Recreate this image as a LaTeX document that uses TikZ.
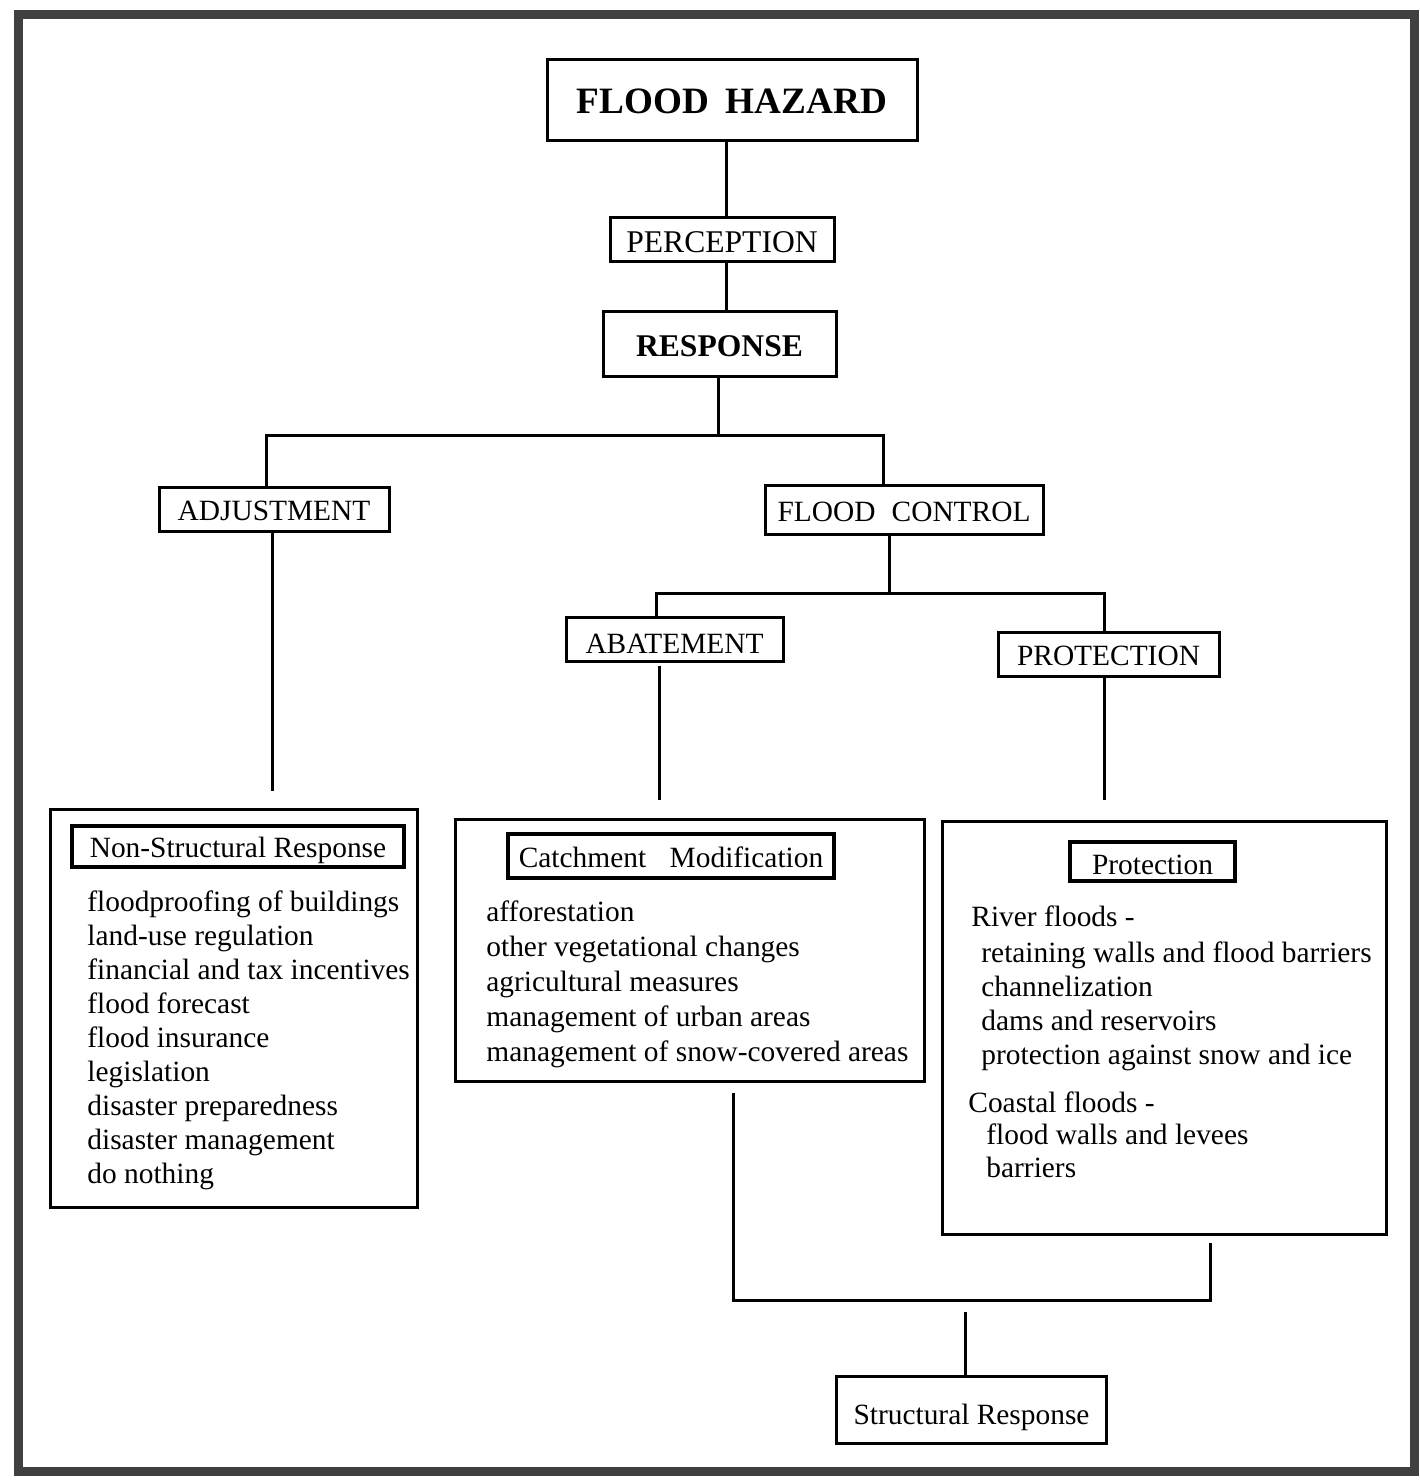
\documentclass[tikz,border=0pt]{standalone}
\usepackage{fontspec}
\setmainfont{Liberation Serif}
\newcommand{\fbody}{\fontsize{14.7pt}{17pt}\selectfont}
\newcommand{\fmid}{\fontsize{15.8pt}{18pt}\selectfont}
\newcommand{\fbig}{\fontsize{18.6pt}{22pt}\selectfont\bfseries}
\begin{document}
\begin{tikzpicture}[x=0.5pt,y=-0.5pt,
  box/.style={draw, line width=1.5pt, inner sep=0pt, font=\fbody, text height=11.5pt, text depth=0pt},
  sz/.style 2 args={minimum width=#1*0.5pt, minimum height=#2*0.5pt},
  ttl/.style={box, line width=2pt},
  item/.style={font=\fbody, inner sep=0pt, anchor=base west},
  conn/.style={line width=1.5pt},
]
\useasboundingbox (0,0) rectangle (1419,1481);
\draw[line width=4.5pt, black!75] (18,15) rectangle (1414,1471);

% top chain
\node[box, sz={370}{81}, font=\fbig, text height=14pt] (hazard) at (732,100) {FLOOD\hspace{0.45em}HAZARD};
\node[box, sz={224}{44}, font=\fmid, text height=12.5pt] (perc) at (722,240) {PERCEPTION};
\node[box, sz={233}{64}, font=\fmid\bfseries, text height=12.5pt] (resp) at (719.5,344) {RESPONSE};
\node[box, sz={230}{44}] (adj) at (274,509) {ADJUSTMENT};
\node[box, sz={278}{49}] (fc) at (904,509.5) {FLOOD\hspace{0.55em}CONTROL};
\node[box, sz={217}{44}, text height=14pt] (abat) at (674.5,639) {ABATEMENT};
\node[box, sz={221}{44}] (prot) at (1108.5,654) {PROTECTION};

% big boxes
\node[box, sz={367}{398}] (nsr) at (233.5,1008) {};
\node[ttl, sz={332}{41}] (nsrt) at (238,846) {Non-Structural Response};
\node[box, sz={469}{262}] (cm) at (690,950) {};
\node[ttl, sz={326}{44}] (cmt) at (671,856) {Catchment\hspace{0.8em}Modification};
\node[box, sz={444}{413}] (pr) at (1164,1028) {};
\node[ttl, sz={165}{39}, text height=12.5pt] (prt) at (1152.5,861.5) {Protection};
\node[box, sz={270}{67}, text height=14.5pt] (sr) at (971.5,1410) {Structural Response};

% lists
\foreach \t [count=\i from 0] in {floodproofing of buildings, land-use regulation, financial and tax incentives, flood forecast, flood insurance, legislation, disaster preparedness, disaster management, do nothing}
  \node[item] (nsri\i) at (87,{911+34*\i}) {\t};
\foreach \t [count=\i from 0] in {afforestation, other vegetational changes, agricultural measures, management of urban areas, management of snow-covered areas}
  \node[item] (cmi\i) at (486,{921+35.2*\i}) {\t};
\node[item] (rf) at (971,926) {River floods -};
\foreach \t [count=\i from 0] in {retaining walls and flood barriers, channelization, dams and reservoirs, protection against snow and ice}
  \node[item] (rfi\i) at (981,{962+34.3*\i}) {\t};
\node[item] (cf) at (968,1112) {Coastal floods -};
\foreach \t [count=\i from 0] in {flood walls and levees, barriers}
  \node[item] (cfi\i) at (986,{1144+33*\i}) {\t};

% connectors
\coordinate (x1) at (726,0);
\draw[conn] (hazard.south -| x1) -- (perc.north -| x1);
\draw[conn] (perc.south -| x1) -- (resp.north -| x1);
\coordinate (b1m) at (718,435);
\coordinate (b1l) at (266,435);
\coordinate (b1r) at (883,435);
\draw[conn] (resp.south -| b1m) -- (b1m);
\draw[conn] (adj.north -| b1l) -- (b1l) -- (b1r) -- (fc.north -| b1r);
\coordinate (xa) at (272,0);
\draw[conn, shorten >=8.5pt] (adj.south -| xa) -- (nsr.north -| xa);
\coordinate (b2m) at (889,593);
\coordinate (b2l) at (656,593);
\coordinate (b2r) at (1104,593);
\draw[conn] (fc.south -| b2m) -- (b2m);
\draw[conn] (abat.north -| b2l) -- (b2l) -- (b2r) -- (prot.north -| b2r);
\coordinate (xb) at (659,0);
\draw[conn, shorten <=1.5pt, shorten >=9pt] (abat.south -| xb) -- (cm.north -| xb);
\coordinate (xc) at (1104,0);
\draw[conn, shorten >=10pt] (prot.south -| xc) -- (pr.north -| xc);
\coordinate (b3l) at (733,1300);
\coordinate (b3r) at (1210,1300);
\draw[conn, shorten <=5pt, shorten >=3.5pt] (cm.south -| b3l) -- (b3l) -- (b3r) -- (pr.south -| b3r);
\coordinate (b3m) at (965,1312);
\draw[conn] (b3m) -- (sr.north -| b3m);
\end{tikzpicture}
\end{document}
